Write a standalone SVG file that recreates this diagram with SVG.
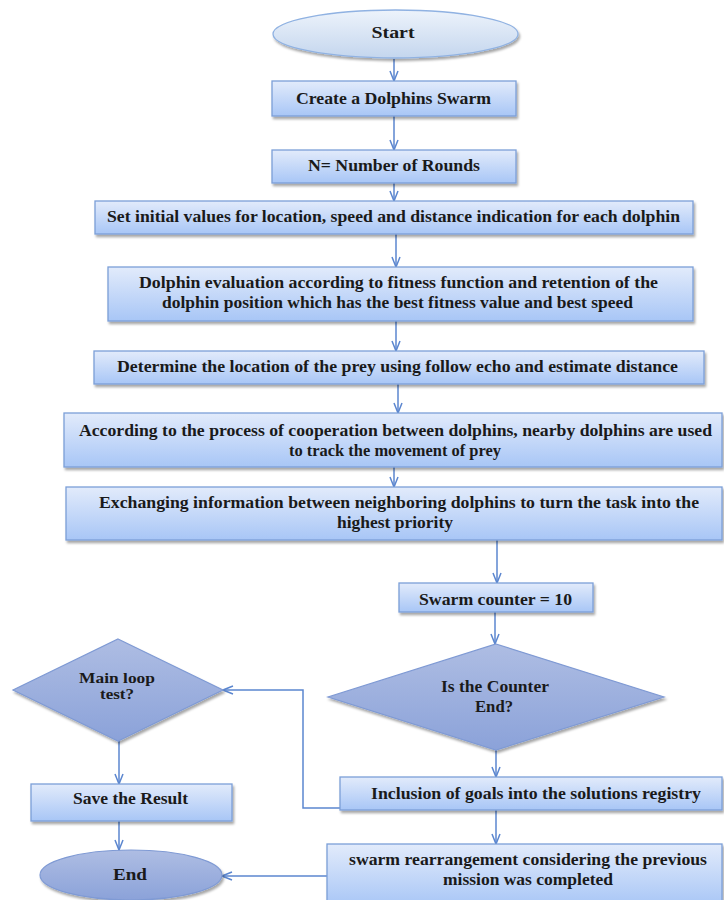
<svg xmlns="http://www.w3.org/2000/svg" width="724" height="900" viewBox="0 0 724 900">
<style>
.box{fill:url(#gBox);stroke:#7b9fd8;stroke-width:1.3;filter:url(#sh)}
.dia{fill:url(#gDia);stroke:#7f9ad4;stroke-width:1.2;filter:url(#sh)}
.st{fill:url(#gStart);stroke:#90b2e2;stroke-width:1.3;filter:url(#sh)}
.en{fill:url(#gDia);stroke:#7f9ad4;stroke-width:1.2;filter:url(#sh)}
text{font-family:'Liberation Serif','DejaVu Serif',serif;font-weight:700;font-size:16px;fill:#1a1a1a;text-anchor:middle}
.c{fill:none;stroke:#5b86cf;stroke-width:1.5;marker-end:url(#arr)}
</style>
<defs>
<linearGradient id="gBox" x1="0" y1="0" x2="0" y2="1"><stop offset="0" stop-color="#e2ebfb"/><stop offset="1" stop-color="#a8c6f6"/></linearGradient>
<linearGradient id="gStart" x1="0" y1="0" x2="0" y2="1"><stop offset="0" stop-color="#edf3fb"/><stop offset="1" stop-color="#c4d6ee"/></linearGradient>
<linearGradient id="gDia" x1="0" y1="0" x2="0" y2="1"><stop offset="0" stop-color="#aebde3"/><stop offset="1" stop-color="#8ba2d9"/></linearGradient>
<filter id="sh" x="-10%" y="-20%" width="120%" height="150%"><feDropShadow dx="1.5" dy="2.5" stdDeviation="1.3" flood-color="#000" flood-opacity="0.35"/></filter>
<marker id="arr" viewBox="0 0 12 10" refX="11" refY="5" markerWidth="12" markerHeight="10" markerUnits="userSpaceOnUse" orient="auto"><path d="M1,1 L11,5 L1,9" fill="none" stroke="#5b86cf" stroke-width="1.5"/></marker>
</defs>

<g id="connectors">
<path class="c" d="M394,59 V81"/>
<path class="c" d="M394,116 V150"/>
<path class="c" d="M394,183 V201"/>
<path class="c" d="M396,234 V267"/>
<path class="c" d="M396,321 V351"/>
<path class="c" d="M398,384 V413"/>
<path class="c" d="M394,467 V487"/>
<path class="c" d="M497,540 V583"/>
<path class="c" d="M495,612 V644"/>
<path class="c" d="M496,750 V777"/>
<path class="c" d="M496,810 V844"/>
<path class="c" d="M340,808 H303 V690 H223"/>
<path class="c" d="M119,741 V784"/>
<path class="c" d="M119,821 V850"/>
<path class="c" d="M327,876 H222"/>
</g>

<g id="start"><ellipse class="st" cx="395.5" cy="34" rx="122.5" ry="24"/><text x="393" y="38" textLength="43" lengthAdjust="spacingAndGlyphs">Start</text></g>
<g id="create"><rect class="box" x="272" y="81" width="244" height="35"/><text x="393.5" y="104" textLength="195" lengthAdjust="spacingAndGlyphs">Create a Dolphins Swarm</text></g>
<g id="rounds"><rect class="box" x="272" y="150" width="244" height="33"/><text x="394" y="171" textLength="172" lengthAdjust="spacingAndGlyphs">N= Number of Rounds</text></g>
<g id="init"><rect class="box" x="95" y="201" width="598" height="33"/><text x="393.5" y="222" textLength="573" lengthAdjust="spacingAndGlyphs">Set initial values for location, speed and distance indication for each dolphin</text></g>
<g id="eval"><rect class="box" x="108" y="267" width="585" height="54"/><text x="398.5" y="288" textLength="519" lengthAdjust="spacingAndGlyphs">Dolphin evaluation according to fitness function and retention of the</text><text x="397.5" y="308" textLength="471" lengthAdjust="spacingAndGlyphs">dolphin position which has the best fitness value and best speed</text></g>
<g id="locate"><rect class="box" x="94" y="351" width="610" height="33"/><text x="397.5" y="372" textLength="561" lengthAdjust="spacingAndGlyphs">Determine the location of the prey using follow echo and estimate distance</text></g>
<g id="coop"><rect class="box" x="64" y="413" width="658" height="54"/><text x="395.5" y="436" textLength="633" lengthAdjust="spacingAndGlyphs">According to the process of cooperation between dolphins, nearby dolphins are used</text><text x="395" y="456" textLength="212" lengthAdjust="spacingAndGlyphs">to track the movement of prey</text></g>
<g id="exchange"><rect class="box" x="66" y="487" width="656" height="53"/><text x="399" y="508" textLength="600" lengthAdjust="spacingAndGlyphs">Exchanging information between neighboring dolphins to turn the task into the</text><text x="395" y="528" textLength="116" lengthAdjust="spacingAndGlyphs">highest priority</text></g>
<g id="counter"><rect class="box" x="399" y="583" width="194" height="29"/><text x="495.5" y="605" textLength="153" lengthAdjust="spacingAndGlyphs">Swarm counter = 10</text></g>
<g id="isend"><polygon class="dia" points="496,644 664,697 496,750 328,697"/><text x="495" y="692" textLength="108" lengthAdjust="spacingAndGlyphs">Is the Counter</text><text x="494" y="712" textLength="38" lengthAdjust="spacingAndGlyphs">End?</text></g>
<g id="mainloop"><polygon class="dia" points="118,639 223,690 118,741 13,690"/><text x="117" y="683" style="font-size:15px" textLength="76" lengthAdjust="spacingAndGlyphs">Main loop</text><text x="117" y="699" style="font-size:15px" textLength="34" lengthAdjust="spacingAndGlyphs">test?</text></g>
<g id="save"><rect class="box" x="31" y="784" width="201" height="37"/><text x="130.5" y="804" textLength="115" lengthAdjust="spacingAndGlyphs">Save the Result</text></g>
<g id="end"><ellipse class="en" cx="131" cy="875" rx="91" ry="25"/><text x="130" y="880" textLength="34" lengthAdjust="spacingAndGlyphs">End</text></g>
<g id="inclusion"><rect class="box" x="340" y="777" width="382" height="33"/><text x="536" y="799" textLength="330" lengthAdjust="spacingAndGlyphs">Inclusion of goals into the solutions registry</text></g>
<g id="rearrange"><rect class="box" x="327" y="844" width="395" height="62"/><text x="528" y="865" textLength="358" lengthAdjust="spacingAndGlyphs">swarm rearrangement considering the previous</text><text x="528" y="885" textLength="170" lengthAdjust="spacingAndGlyphs">mission was completed</text></g>
</svg>
